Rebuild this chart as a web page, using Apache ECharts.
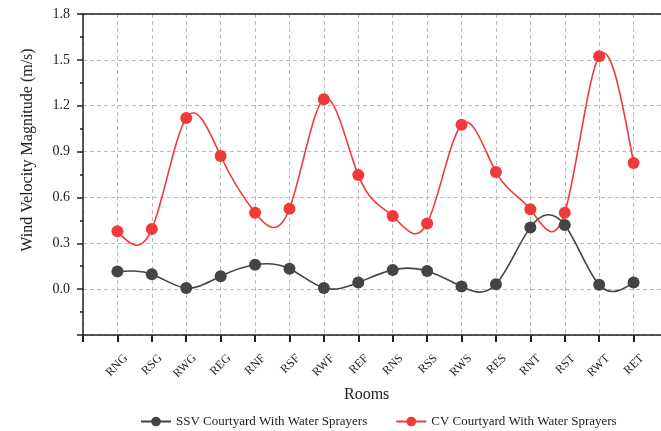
<!DOCTYPE html>
<html>
<head>
<meta charset="utf-8">
<script src="https://cdn.jsdelivr.net/npm/echarts@6/dist/echarts.min.js"></script>
<style>
html,body{margin:0;padding:0;background:#fff;}
#c{width:661px;height:431px;}
</style>
</head>
<body>
<div id="c"></div>
<script>
var rooms = ['RNG','RSG','RWG','REG','RNF','RSF','RWF','REF','RNS','RSS','RWS','RES','RNT','RST','RWT','RET'];
var ssv = [0.115,0.098,0.007,0.085,0.160,0.134,0.008,0.043,0.126,0.119,0.017,0.032,0.404,0.419,0.028,0.043];
var cv = [0.378,0.393,1.119,0.871,0.500,0.526,1.243,0.746,0.478,0.430,1.076,0.767,0.522,0.500,1.524,0.826];
var yTicks = [-0.3,0.0,0.3,0.6,0.9,1.2,1.5,1.8];
var seriesNames = ['SSV Courtyard With Water Sprayers','CV Courtyard With Water Sprayers'];

var cats = [''].concat(rooms).concat(['']);
var pad = function(a){ return [null].concat(a).concat([null]); };
var serif = '"Liberation Serif","Times New Roman",serif';
var colSSV = '#444444', colCV = '#f03a3a';

// natural cubic spline drawn through the data points (in pixel space via api.coord)
function splineRender(values, color){
  return function(params, api){
    if (params.dataIndex !== 0) return null;
    var pts = values.map(function(v, i){ return api.coord([i + 1, v]); });
    var n = pts.length - 1;
    var y = pts.map(function(p){ return p[1]; });
    var M = new Array(n + 1).fill(0);
    if (n >= 2) {
      var a = [], b = [], c = [], d = [];
      for (var i = 1; i < n; i++) {
        a.push(1); b.push(4); c.push(1);
        d.push(6 * (y[i + 1] - 2 * y[i] + y[i - 1]));
      }
      var m = d.length;
      for (var k = 1; k < m; k++) {
        var w = a[k] / b[k - 1];
        b[k] -= w * c[k - 1];
        d[k] -= w * d[k - 1];
      }
      var sol = new Array(m);
      sol[m - 1] = d[m - 1] / b[m - 1];
      for (var k2 = m - 2; k2 >= 0; k2--) sol[k2] = (d[k2] - c[k2] * sol[k2 + 1]) / b[k2];
      for (var j = 1; j < n; j++) M[j] = sol[j - 1];
    }
    var der = [];
    for (var i2 = 0; i2 < n; i2++) der.push((y[i2 + 1] - y[i2]) - (2 * M[i2] + M[i2 + 1]) / 6);
    der.push((y[n] - y[n - 1]) + (M[n - 1] + 2 * M[n]) / 6);
    var path = 'M' + pts[0][0] + ' ' + pts[0][1];
    for (var s = 0; s < n; s++) {
      var dx = pts[s + 1][0] - pts[s][0];
      path += ' C' + (pts[s][0] + dx / 3) + ' ' + (y[s] + der[s] / 3) + ' ' +
              (pts[s + 1][0] - dx / 3) + ' ' + (y[s + 1] - der[s + 1] / 3) + ' ' +
              pts[s + 1][0] + ' ' + pts[s + 1][1];
    }
    return {type:'path', shape:{pathData:path}, style:{stroke:color, lineWidth:1.6, fill:null}, silent:true};
  };
}

var chart = echarts.init(document.getElementById('c'));
chart.setOption({
  animation:false,
  backgroundColor:'#fff',
  grid:{left:83,top:14,width:585,height:321,containLabel:false,outerBoundsMode:'none'},
  xAxis:[{
    type:'category', data:cats, boundaryGap:false,
    axisLine:{show:true,onZero:false,lineStyle:{color:'#222',width:1.5}},
    axisTick:{show:true,inside:false,length:7,lineStyle:{color:'#222',width:2}},
    axisLabel:{rotate:45,fontFamily:serif,fontSize:12,color:'#222',margin:13,interval:0,
      verticalAlign:'top',padding:[6,0,0,0]},
    splitLine:{show:true,lineStyle:{color:'#bbbbbb',type:[4,3],width:1}}
  },{
    type:'category', data:cats, boundaryGap:false, position:'top',
    axisLine:{show:true,onZero:false,lineStyle:{color:'#222',width:1.5}},
    axisTick:{show:false}, axisLabel:{show:false}, splitLine:{show:false}
  }],
  yAxis:{
    type:'value', min:yTicks[0], max:yTicks[yTicks.length-1], interval:0.3,
    axisLine:{show:true,lineStyle:{color:'#222',width:1.5}},
    axisTick:{show:true,inside:false,length:6,lineStyle:{color:'#222',width:1.5}},
    minorTick:{show:true,splitNumber:2,length:3,lineStyle:{color:'#222',width:1.5}},
    axisLabel:{fontFamily:serif,fontSize:14,color:'#222',margin:13,
      formatter:function(v){ return v < -0.01 ? '' : v.toFixed(1); }},
    splitLine:{show:true,lineStyle:{color:'#bbbbbb',type:[4,3],width:1}}
  },
  legend:{
    top:410, left:135, itemWidth:30, itemHeight:12, itemGap:28,
    textStyle:{fontFamily:serif,fontSize:13,color:'#222'},
    lineStyle:{opacity:1,width:2},
    data:seriesNames
  },
  graphic:[
    {type:'text', left:344, top:387, style:{text:'Rooms', font:'16px '+serif, fill:'#222'}},
    {type:'text', x:28, y:150, rotation:Math.PI/2,
     style:{text:'Wind Velocity Magnitude (m/s)', font:'16px '+serif, fill:'#222', align:'center', verticalAlign:'middle'}}
  ],
  series:[{
    type:'custom', name:'ssv-curve', coordinateSystem:'cartesian2d', z:1, clip:false,
    data:ssv.map(function(v,i){ return [i+1, v]; }),
    renderItem:splineRender(ssv, colSSV)
  },{
    type:'custom', name:'cv-curve', coordinateSystem:'cartesian2d', z:1, clip:false,
    data:cv.map(function(v,i){ return [i+1, v]; }),
    renderItem:splineRender(cv, colCV)
  },{
    name:seriesNames[0], type:'line', data:pad(ssv), z:3,
    symbol:'circle', symbolSize:12,
    lineStyle:{color:colSSV,width:1.6,opacity:0}, itemStyle:{color:colSSV}
  },{
    name:seriesNames[1], type:'line', data:pad(cv), z:3,
    symbol:'circle', symbolSize:12,
    lineStyle:{color:colCV,width:1.6,opacity:0}, itemStyle:{color:colCV}
  }]
});
</script>
</body>
</html>
